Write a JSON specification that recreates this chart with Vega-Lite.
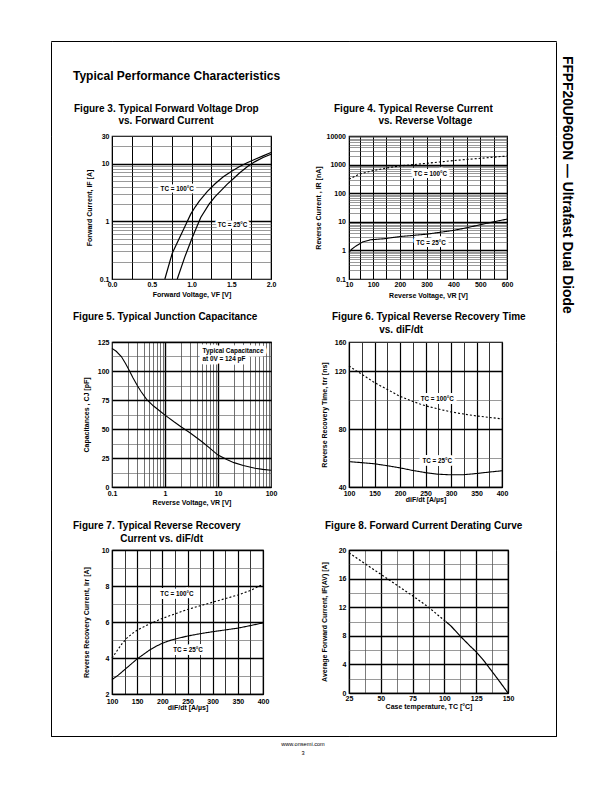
{
 "$schema": "https://vega.github.io/schema/vega-lite/v6.json",
 "padding": {"left": 50, "top": 40, "right": 5, "bottom": 5},
 "autosize": {"type": "pad"},
 "background": "white",
 "columns": 4,
 "bounds": "flush",
 "align": "each",
 "spacing": {"row": 0, "column": 0},
 "datasets": {
  "blank": [{}],
  "f3": [
   {"s":"100","v":0.665,"i":0.1},{"s":"100","v":0.758,"i":0.28},{"s":"100","v":0.85,"i":0.52},{"s":"100","v":0.92,"i":0.83},{"s":"100","v":0.99,"i":1.33},{"s":"100","v":1.05,"i":1.8},{"s":"100","v":1.1,"i":2.25},{"s":"100","v":1.2,"i":3.3},{"s":"100","v":1.3,"i":4.5},{"s":"100","v":1.4,"i":5.9},{"s":"100","v":1.5,"i":7.3},{"s":"100","v":1.6,"i":8.8},{"s":"100","v":1.7,"i":10.3},{"s":"100","v":1.8,"i":11.9},{"s":"100","v":1.9,"i":13.6},{"s":"100","v":2.0,"i":15.5},
   {"s":"25","v":0.821,"i":0.1},{"s":"25","v":0.914,"i":0.237},{"s":"25","v":1.01,"i":0.525},{"s":"25","v":1.116,"i":1.16},{"s":"25","v":1.221,"i":1.98},{"s":"25","v":1.3,"i":2.7},{"s":"25","v":1.368,"i":3.36},{"s":"25","v":1.45,"i":4.4},{"s":"25","v":1.516,"i":5.3},{"s":"25","v":1.6,"i":6.8},{"s":"25","v":1.705,"i":8.9},{"s":"25","v":1.8,"i":10.8},{"s":"25","v":1.9,"i":12.7},{"s":"25","v":2.0,"i":14.5}
  ],
  "f3l": [{"t":"TC = 100°C","v":0.82,"i":3.6},{"t":"TC = 25°C","v":1.516,"i":0.857}],
  "f4": [
   {"s":"100","v":10,"i":310},{"s":"100","v":50,"i":470},{"s":"100","v":100,"i":615},{"s":"100","v":150,"i":760},{"s":"100","v":200,"i":900},{"s":"100","v":250,"i":1000},{"s":"100","v":300,"i":1110},{"s":"100","v":350,"i":1240},{"s":"100","v":400,"i":1380},{"s":"100","v":450,"i":1520},{"s":"100","v":500,"i":1660},{"s":"100","v":550,"i":1820},{"s":"100","v":600,"i":2000},
   {"s":"25","v":10,"i":0.85},{"s":"25","v":20,"i":1.1},{"s":"25","v":35,"i":1.4},{"s":"25","v":60,"i":1.95},{"s":"25","v":90,"i":2.35},{"s":"25","v":140,"i":2.55},{"s":"25","v":200,"i":3.05},{"s":"25","v":250,"i":3.35},{"s":"25","v":300,"i":3.7},{"s":"25","v":350,"i":4.3},{"s":"25","v":400,"i":5.0},{"s":"25","v":450,"i":6.2},{"s":"25","v":500,"i":7.9},{"s":"25","v":550,"i":10},{"s":"25","v":600,"i":12.4}
  ],
  "f4l": [{"t":"TC = 100°C","v":314,"i":472},{"t":"TC = 25°C","v":316,"i":1.8}],
  "f5": [
   {"v":0.1,"i":119.5},{"v":0.12,"i":117},{"v":0.15,"i":112.5},{"v":0.18,"i":106.5},{"v":0.2,"i":102.5},{"v":0.22,"i":99},{"v":0.25,"i":94},{"v":0.3,"i":87.5},{"v":0.35,"i":82.5},{"v":0.45,"i":75.5},{"v":0.6,"i":70},{"v":0.8,"i":65.5},{"v":1,"i":62},{"v":1.5,"i":56},{"v":2,"i":52},{"v":3,"i":46.5},{"v":5,"i":39},{"v":7,"i":33.5},{"v":10,"i":27.5},{"v":15,"i":23.5},{"v":20,"i":21},{"v":30,"i":18.5},{"v":50,"i":16.2},{"v":70,"i":15.2},{"v":100,"i":14.5}
  ],
  "f5l": [{"t":"Typical Capacitance","v":5.1,"i":117.2},{"t":"at 0V =  124 pF","v":5.1,"i":110.6}],
  "f6": [
   {"s":"100","v":100,"i":123.5},{"s":"100","v":112.5,"i":120.5},{"s":"100","v":125,"i":117.8},{"s":"100","v":150,"i":112},{"s":"100","v":175,"i":107.3},{"s":"100","v":200,"i":102.5},{"s":"100","v":225,"i":99},{"s":"100","v":250,"i":96},{"s":"100","v":275,"i":93.8},{"s":"100","v":300,"i":91.8},{"s":"100","v":325,"i":90.3},{"s":"100","v":350,"i":89},{"s":"100","v":375,"i":88},{"s":"100","v":400,"i":87},
   {"s":"25","v":100,"i":57.5},{"s":"25","v":125,"i":56.8},{"s":"25","v":150,"i":56},{"s":"25","v":175,"i":54.7},{"s":"25","v":200,"i":53.2},{"s":"25","v":225,"i":51.4},{"s":"25","v":250,"i":49.9},{"s":"25","v":275,"i":48.8},{"s":"25","v":300,"i":48.4},{"s":"25","v":325,"i":48.5},{"s":"25","v":350,"i":49.3},{"s":"25","v":375,"i":50.3},{"s":"25","v":400,"i":51.2}
  ],
  "f6l": [{"t":"TC = 100°C","v":273,"i":100.6},{"t":"TC = 25°C","v":273,"i":57.6}],
  "f7": [
   {"s":"100","v":100,"i":4.0},{"s":"100","v":110,"i":4.4},{"s":"100","v":120,"i":4.8},{"s":"100","v":130,"i":5.12},{"s":"100","v":140,"i":5.35},{"s":"100","v":150,"i":5.55},{"s":"100","v":175,"i":5.9},{"s":"100","v":200,"i":6.2},{"s":"100","v":225,"i":6.45},{"s":"100","v":250,"i":6.7},{"s":"100","v":275,"i":6.9},{"s":"100","v":300,"i":7.1},{"s":"100","v":325,"i":7.3},{"s":"100","v":350,"i":7.5},{"s":"100","v":375,"i":7.75},{"s":"100","v":400,"i":8.1},
   {"s":"25","v":100,"i":2.8},{"s":"25","v":112.5,"i":3.05},{"s":"25","v":125,"i":3.35},{"s":"25","v":137.5,"i":3.65},{"s":"25","v":150,"i":3.95},{"s":"25","v":162.5,"i":4.2},{"s":"25","v":175,"i":4.45},{"s":"25","v":187.5,"i":4.65},{"s":"25","v":200,"i":4.82},{"s":"25","v":212.5,"i":4.95},{"s":"25","v":225,"i":5.05},{"s":"25","v":250,"i":5.22},{"s":"25","v":275,"i":5.35},{"s":"25","v":300,"i":5.46},{"s":"25","v":325,"i":5.56},{"s":"25","v":350,"i":5.66},{"s":"25","v":375,"i":5.8},{"s":"25","v":400,"i":5.95}
  ],
  "f7l": [{"t":"TC = 100°C","v":229,"i":7.55},{"t":"TC = 25°C","v":251,"i":4.45}],
  "f8": [
   {"s":"d","v":25,"i":19.6},{"s":"d","v":37.5,"i":18.1},{"s":"d","v":50,"i":16.6},{"s":"d","v":62.5,"i":15.1},{"s":"d","v":75,"i":13.6},{"s":"d","v":87.5,"i":12.0},{"s":"d","v":101,"i":10.0},
   {"s":"s","v":101,"i":10.0},{"s":"s","v":105,"i":9.4},{"s":"s","v":112.5,"i":7.95},{"s":"s","v":120,"i":6.6},{"s":"s","v":125,"i":5.75},{"s":"s","v":130,"i":4.75},{"s":"s","v":137.5,"i":3.0},{"s":"s","v":143,"i":1.7},{"s":"s","v":150,"i":0}
  ]
 },
 "concat": [
  {"width": 61, "height": 0.001, "view": {"stroke": "black", "strokeWidth": 1}, "data": {"name": "blank"}, "mark": {"type": "text", "fontSize": 0}, "encoding": {"text": {"value": ""}}},
  {"width": 237, "height": 0.001, "view": {"stroke": "black", "strokeWidth": 1}, "data": {"name": "blank"}, "mark": {"type": "text", "fontSize": 0}, "encoding": {"text": {"value": ""}}},
  {"width": 207, "height": 0.001, "view": {"stroke": "black", "strokeWidth": 1}, "data": {"name": "blank"}, "mark": {"type": "text", "fontSize": 0}, "encoding": {"text": {"value": ""}}},
  {"width": 0.001, "height": 0.001, "view": {"stroke": null}, "data": {"name": "blank"}, "mark": {"type": "text", "fontSize": 0}, "encoding": {"text": {"value": ""}}},

  {"width": 0.001, "height": 94, "view": {"stroke": "black", "strokeWidth": 1}, "data": {"name": "blank"}, "mark": {"type": "text", "fontSize": 0}, "encoding": {"text": {"value": ""}}},
  {
   "width": 100, "height": 32, "view": {"stroke": null},
   "data": {"name": "blank"}, "mark": {"type": "text", "fontSize": 0}, "encoding": {"text": {"value": ""}},
   "title": {"text": "Typical Performance Characteristics", "orient": "bottom", "anchor": "start", "frame": "group", "dx": -39, "offset": 6, "baseline": "alphabetic", "fontSize": 12}
  },
  {"width": 10, "height": 10, "view": {"stroke": null}, "data": {"name": "blank"}, "mark": {"type": "text", "fontSize": 0}, "encoding": {"text": {"value": ""}}},
  {
   "width": 0.001, "height": 94, "view": {"stroke": "black", "strokeWidth": 1}, "data": {"name": "blank"}, "mark": {"type": "text", "fontSize": 0}, "encoding": {"text": {"value": ""}},
   "title": {"text": "FFPF20UP60DN — Ultrafast Dual Diode", "orient": "right", "anchor": "start", "frame": "group", "offset": -7, "baseline": "alphabetic", "dx": 14, "fontSize": 13.8, "fontWeight": "bold"}
  },

  {"width": 0.001, "height": 206, "view": {"stroke": "black", "strokeWidth": 1}, "data": {"name": "blank"}, "mark": {"type": "text", "fontSize": 0}, "encoding": {"text": {"value": ""}}},
  {
   "width": 159, "height": 143,
   "title": {"text": ["Figure 3. Typical Forward Voltage Drop", "\u200b\u00a0\u00a0\u00a0\u00a0\u00a0\u00a0\u00a0\u00a0\u00a0\u00a0\u00a0\u00a0\u00a0\u00a0\u00a0\u00a0vs. Forward Current"], "anchor": "start", "frame": "group", "dx": -38, "dy": 13, "offset": 8.8, "baseline": "bottom", "lineHeight": 12.5},
   "encoding": {
    "x": {"field": "v", "type": "quantitative", "scale": {"domain": [0, 2], "nice": false, "zero": false},
     "axis": {"title": "Forward Voltage, VF [V]", "values": [0,0.25,0.5,0.75,1,1.25,1.5,1.75,2], "labelExpr": "indexof([0,0.5,1,1.5,2], datum.value) >= 0 ? format(datum.value, '.1f') : ''", "gridColor": "black", "gridWidth": 1, "labelPadding": 1.7, "titlePadding": 2.4}},
    "y": {"field": "i", "type": "quantitative", "scale": {"type": "log", "domain": [0.1, 30], "nice": false},
     "axis": {"title": "Forward Current, IF [A]", "values": [0.1,0.2,0.3,0.4,0.5,0.6,0.7,0.8,0.9,1,2,3,4,5,6,7,8,9,10,20,30], "labelExpr": "indexof([0.1,1,10,30], datum.value) >= 0 ? '' + datum.value : ''",
      "gridColor": {"condition": {"test": "indexof([1,10], datum.value) >= 0", "value": "black"}, "value": "#555"},
      "gridWidth": {"condition": {"test": "indexof([1,10], datum.value) >= 0", "value": 1.4}, "value": 0.6}, "titlePadding": 7}}
   },
   "layer": [
    {"data": {"name": "f3"}, "mark": {"type": "line", "color": "black", "strokeWidth": 1.2}, "encoding": {"detail": {"field": "s", "type": "nominal"}}},
    {"data": {"name": "f3l"}, "mark": {"type": "text", "fontSize": 6.3, "fontWeight": "bold", "fill": "white", "stroke": "white", "strokeWidth": 5, "strokeJoin": "round"}, "encoding": {"text": {"field": "t"}}},
    {"data": {"name": "f3l"}, "mark": {"type": "text", "fontSize": 6.3, "fontWeight": "bold", "color": "black"}, "encoding": {"text": {"field": "t"}}}
   ]
  },
  {
   "width": 158, "height": 143,
   "title": {"text": ["Figure 4. Typical Reverse Current", "\u200b\u00a0\u00a0\u00a0\u00a0\u00a0\u00a0\u00a0\u00a0\u00a0\u00a0\u00a0\u00a0\u00a0\u00a0\u00a0\u00a0vs. Reverse Voltage"], "anchor": "start", "frame": "group", "dx": -15, "dy": 13, "offset": 8.8, "baseline": "bottom", "lineHeight": 12.5},
   "encoding": {
    "x": {"field": "v", "type": "quantitative", "scale": {"domain": [10, 600], "nice": false, "zero": false},
     "axis": {"title": "Reverse Voltage, VR [V]", "values": [10,50,100,150,200,250,300,350,400,450,500,550,600], "labelExpr": "indexof([10,100,200,300,400,500,600], datum.value) >= 0 ? '' + datum.value : ''", "gridColor": "black", "gridWidth": 1, "labelPadding": 1.5, "titlePadding": 3.5}},
    "y": {"field": "i", "type": "quantitative", "scale": {"type": "log", "domain": [0.1, 10000], "nice": false},
     "axis": {"title": "Reverse Current , IR [nA]", "values": [0.1,0.2,0.3,0.4,0.5,0.6,0.7,0.8,0.9,1,2,3,4,5,6,7,8,9,10,20,30,40,50,60,70,80,90,100,200,300,400,500,600,700,800,900,1000,2000,3000,4000,5000,6000,7000,8000,9000,10000], "labelExpr": "indexof([0.1,1,10,100,1000,10000], datum.value) >= 0 ? '' + datum.value : ''",
      "gridColor": {"condition": {"test": "indexof([1,10,100,1000], datum.value) >= 0", "value": "black"}, "value": "#555"},
      "gridWidth": {"condition": {"test": "indexof([1,10,100,1000], datum.value) >= 0", "value": 1.4}, "value": 0.6}, "labelPadding": 3.5, "titlePadding": 4.7}}
   },
   "layer": [
    {"data": {"name": "f4"}, "mark": {"type": "line", "color": "black", "strokeWidth": 1.1}, "encoding": {"strokeDash": {"field": "s", "type": "nominal", "scale": {"domain": ["100","25"], "range": [[2,2],[1,0]]}, "legend": null}}},
    {"data": {"name": "f4l"}, "mark": {"type": "text", "fontSize": 6.3, "fontWeight": "bold", "fill": "white", "stroke": "white", "strokeWidth": 6, "strokeJoin": "round"}, "encoding": {"text": {"field": "t"}}},
    {"data": {"name": "f4l"}, "mark": {"type": "text", "fontSize": 6.3, "fontWeight": "bold", "color": "black"}, "encoding": {"text": {"field": "t"}}}
   ]
  },
  {"width": 0.001, "height": 206, "view": {"stroke": "black", "strokeWidth": 1}, "data": {"name": "blank"}, "mark": {"type": "text", "fontSize": 0}, "encoding": {"text": {"value": ""}}},

  {"width": 0.001, "height": 208, "view": {"stroke": "black", "strokeWidth": 1}, "data": {"name": "blank"}, "mark": {"type": "text", "fontSize": 0}, "encoding": {"text": {"value": ""}}},
  {
   "width": 159, "height": 145,
   "title": {"text": ["Figure 5. Typical Junction Capacitance", "\u200b"], "anchor": "start", "frame": "group", "dx": -39, "dy": 13, "offset": 6.3, "baseline": "bottom", "lineHeight": 12.5},
   "encoding": {
    "x": {"field": "v", "type": "quantitative", "scale": {"type": "log", "domain": [0.1, 100], "nice": false},
     "axis": {"title": "Reverse Voltage, VR [V]", "values": [0.1,0.2,0.3,0.4,0.5,0.6,0.7,0.8,0.9,1,2,3,4,5,6,7,8,9,10,20,30,40,50,60,70,80,90,100], "labelExpr": "indexof([0.1,1,10,100], datum.value) >= 0 ? '' + datum.value : ''",
      "gridColor": {"condition": {"test": "indexof([1,10], datum.value) >= 0", "value": "black"}, "value": "#333"},
      "gridWidth": {"condition": {"test": "indexof([1,10], datum.value) >= 0", "value": 1.4}, "value": 0.7}, "labelPadding": 2, "titlePadding": 2.8}},
    "y": {"field": "i", "type": "quantitative", "scale": {"domain": [0, 125], "nice": false},
     "axis": {"title": "Capacitances , CJ [pF]", "values": [0,12.5,25,37.5,50,62.5,75,87.5,100,112.5,125], "labelExpr": "datum.value % 25 == 0 ? '' + datum.value : ''",
      "gridColor": {"condition": {"test": "datum.value % 25 == 0", "value": "black"}, "value": "#555"},
      "gridWidth": {"condition": {"test": "datum.value % 25 == 0", "value": 1.4}, "value": 0.6}, "titlePadding": 8}}
   },
   "layer": [
    {"data": {"name": "f5"}, "mark": {"type": "line", "color": "black", "strokeWidth": 1.1}},
    {"data": {"name": "f5l"}, "mark": {"type": "text", "align": "left", "fontSize": 6.4, "fontWeight": "bold", "fill": "white", "stroke": "white", "strokeWidth": 7, "strokeJoin": "round"}, "encoding": {"text": {"field": "t"}}},
    {"data": {"name": "f5l"}, "mark": {"type": "text", "align": "left", "fontSize": 6.4, "fontWeight": "bold", "color": "black"}, "encoding": {"text": {"field": "t"}}}
   ]
  },
  {
   "width": 153, "height": 145,
   "title": {"text": ["Figure 6. Typical Reverse Recovery Time", "\u200b\u00a0\u00a0\u00a0\u00a0\u00a0\u00a0\u00a0\u00a0\u00a0\u00a0\u00a0\u00a0\u00a0\u00a0\u00a0\u00a0\u00a0vs. diF/dt"], "anchor": "start", "frame": "group", "dx": -17, "dy": 13, "offset": 6.3, "baseline": "bottom", "lineHeight": 12.5},
   "encoding": {
    "x": {"field": "v", "type": "quantitative", "scale": {"domain": [100, 400], "nice": false, "zero": false},
     "axis": {"title": "diF/dt [A/µs]", "values": [100,125,150,175,200,225,250,275,300,325,350,375,400], "labelExpr": "datum.value % 50 == 0 ? '' + datum.value : ''",
      "gridColor": "black", "gridWidth": {"condition": {"test": "datum.value % 50 == 0", "value": 1.2}, "value": 0.8}, "labelPadding": 2, "titlePadding": -1}},
    "y": {"field": "i", "type": "quantitative", "scale": {"domain": [40, 140], "nice": false, "zero": false},
     "axis": {"title": "Reverse Recovery Time, trr [ns]", "values": [40,60,80,100,120,140], "labelExpr": "datum.value == 140 ? '160' : datum.value % 40 == 0 ? '' + datum.value : ''",
      "gridColor": {"condition": {"test": "datum.value % 40 == 0", "value": "black"}, "value": "#555"},
      "gridWidth": {"condition": {"test": "datum.value % 40 == 0", "value": 1.4}, "value": 0.6}, "titlePadding": 7.3}}
   },
   "layer": [
    {"data": {"name": "f6"}, "mark": {"type": "line", "color": "black", "strokeWidth": 1.1}, "encoding": {"strokeDash": {"field": "s", "type": "nominal", "scale": {"domain": ["100","25"], "range": [[2,2],[1,0]]}, "legend": null}}},
    {"data": {"name": "f6l"}, "mark": {"type": "text", "fontSize": 6.3, "fontWeight": "bold", "fill": "white", "stroke": "white", "strokeWidth": 6, "strokeJoin": "round"}, "encoding": {"text": {"field": "t"}}},
    {"data": {"name": "f6l"}, "mark": {"type": "text", "fontSize": 6.3, "fontWeight": "bold", "color": "black"}, "encoding": {"text": {"field": "t"}}}
   ]
  },
  {"width": 0.001, "height": 208, "view": {"stroke": "black", "strokeWidth": 1}, "data": {"name": "blank"}, "mark": {"type": "text", "fontSize": 0}, "encoding": {"text": {"value": ""}}},

  {"width": 0.001, "height": 186, "view": {"stroke": "black", "strokeWidth": 1}, "data": {"name": "blank"}, "mark": {"type": "text", "fontSize": 0}, "encoding": {"text": {"value": ""}}},
  {
   "width": 151, "height": 144,
   "title": {"text": ["Figure 7. Typical Reverse Recovery", "\u200b\u00a0\u00a0\u00a0\u00a0\u00a0\u00a0\u00a0\u00a0\u00a0\u00a0\u00a0\u00a0\u00a0\u00a0\u00a0\u00a0\u00a0Current vs. diF/dt"], "anchor": "start", "frame": "group", "dx": -39, "dy": 13, "offset": 5.3, "baseline": "bottom", "lineHeight": 12.5},
   "encoding": {
    "x": {"field": "v", "type": "quantitative", "scale": {"domain": [100, 400], "nice": false, "zero": false},
     "axis": {"title": "diF/dt [A/µs]", "values": [100,125,150,175,200,225,250,275,300,325,350,375,400], "labelExpr": "datum.value % 50 == 0 ? '' + datum.value : ''",
      "gridColor": "black", "gridWidth": {"condition": {"test": "datum.value % 50 == 0", "value": 1.2}, "value": 0.8}, "labelPadding": 3.5, "titlePadding": -1}},
    "y": {"field": "i", "type": "quantitative", "scale": {"domain": [2, 10], "nice": false, "zero": false},
     "axis": {"title": "Reverse Recovery Current, Irr [A]", "values": [2,3,4,5,6,7,8,9,10], "labelExpr": "datum.value % 2 == 0 ? '' + datum.value : ''",
      "gridColor": {"condition": {"test": "datum.value % 2 == 0", "value": "black"}, "value": "#555"},
      "gridWidth": {"condition": {"test": "datum.value % 2 == 0", "value": 1.4}, "value": 0.6}, "titlePadding": 11.6}}
   },
   "layer": [
    {"data": {"name": "f7"}, "mark": {"type": "line", "color": "black", "strokeWidth": 1.1}, "encoding": {"strokeDash": {"field": "s", "type": "nominal", "scale": {"domain": ["100","25"], "range": [[2,2],[1,0]]}, "legend": null}}},
    {"data": {"name": "f7l"}, "mark": {"type": "text", "fontSize": 6.3, "fontWeight": "bold", "fill": "white", "stroke": "white", "strokeWidth": 6, "strokeJoin": "round"}, "encoding": {"text": {"field": "t"}}},
    {"data": {"name": "f7l"}, "mark": {"type": "text", "fontSize": 6.3, "fontWeight": "bold", "color": "black"}, "encoding": {"text": {"field": "t"}}}
   ]
  },
  {
   "width": 159, "height": 143,
   "title": {"text": ["Figure 8. Forward Current Derating Curve", "\u200b"], "anchor": "start", "frame": "group", "dx": -24, "dy": 13, "offset": 5.3, "baseline": "bottom", "lineHeight": 12.5},
   "encoding": {
    "x": {"field": "v", "type": "quantitative", "scale": {"domain": [25, 150], "nice": false, "zero": false},
     "axis": {"title": "Case temperature, TC [°C]", "values": [25,37.5,50,62.5,75,87.5,100,112.5,125,137.5,150], "labelExpr": "datum.value % 25 == 0 ? '' + datum.value : ''",
      "gridColor": {"condition": {"test": "datum.value % 25 == 0", "value": "black"}, "value": "#444"},
      "gridWidth": {"condition": {"test": "datum.value % 25 == 0", "value": 1.3}, "value": 0.7}, "labelPadding": 1.7, "titlePadding": 0.5}},
    "y": {"field": "i", "type": "quantitative", "scale": {"domain": [0, 20], "nice": false},
     "axis": {"title": "Average Forward Current, IF(AV) [A]", "values": [0,2,4,6,8,10,12,14,16,18,20], "labelExpr": "datum.value % 4 == 0 ? '' + datum.value : ''",
      "gridColor": {"condition": {"test": "datum.value % 4 == 0", "value": "black"}, "value": "#555"},
      "gridWidth": {"condition": {"test": "datum.value % 4 == 0", "value": 1.4}, "value": 0.6}, "titlePadding": 11}}
   },
   "layer": [
    {"data": {"name": "f8"}, "mark": {"type": "line", "color": "black", "strokeWidth": 1.2}, "encoding": {"strokeDash": {"field": "s", "type": "nominal", "scale": {"domain": ["d","s"], "range": [[2,2],[1,0]]}, "legend": null}}}
   ]
  },
  {"width": 0.001, "height": 186, "view": {"stroke": "black", "strokeWidth": 1}, "data": {"name": "blank"}, "mark": {"type": "text", "fontSize": 0}, "encoding": {"text": {"value": ""}}},

  {"width": 61, "height": 0.001, "view": {"stroke": "black", "strokeWidth": 1}, "data": {"name": "blank"}, "mark": {"type": "text", "fontSize": 0}, "encoding": {"text": {"value": ""}}},
  {"width": 237, "height": 0.001, "view": {"stroke": "black", "strokeWidth": 1}, "data": {"name": "blank"}, "mark": {"type": "text", "fontSize": 0}, "encoding": {"text": {"value": ""}}},
  {"width": 207, "height": 0.001, "view": {"stroke": "black", "strokeWidth": 1}, "data": {"name": "blank"}, "mark": {"type": "text", "fontSize": 0}, "encoding": {"text": {"value": ""}}},
  {"width": 0.001, "height": 0.001, "view": {"stroke": null}, "data": {"name": "blank"}, "mark": {"type": "text", "fontSize": 0}, "encoding": {"text": {"value": ""}}},

  {"width": 0.001, "height": 0.001, "view": {"stroke": null}, "data": {"name": "blank"}, "mark": {"type": "text", "fontSize": 0}, "encoding": {"text": {"value": ""}}},
  {
   "width": 100, "height": 0.001, "view": {"stroke": null},
   "data": {"name": "blank"}, "mark": {"type": "text", "fontSize": 0}, "encoding": {"text": {"value": ""}},
   "title": {"text": ["www.onsemi.com", "3"], "orient": "bottom", "anchor": "start", "align": "center", "frame": "group", "dx": 191, "offset": 8.6, "baseline": "alphabetic", "lineHeight": 9.4, "fontSize": 5.6, "fontWeight": "normal"}
  }
 ],
 "config": {
  "font": "Liberation Sans",
  "view": {"stroke": "black", "strokeWidth": 1.2},
  "axis": {"labelFont": "Liberation Sans", "labelFontSize": 7, "labelFontWeight": "bold", "labelColor": "black", "titleFont": "Liberation Sans", "titleFontSize": 7, "titleFontWeight": "bold", "titleColor": "black", "ticks": false, "domain": false, "grid": true, "labelPadding": 3, "labelFlush": false, "labelOverlap": false, "labelBound": false},
  "title": {"font": "Liberation Sans", "fontSize": 10, "fontWeight": "bold", "color": "black"},
  "text": {"font": "Liberation Sans"}
 }
}
